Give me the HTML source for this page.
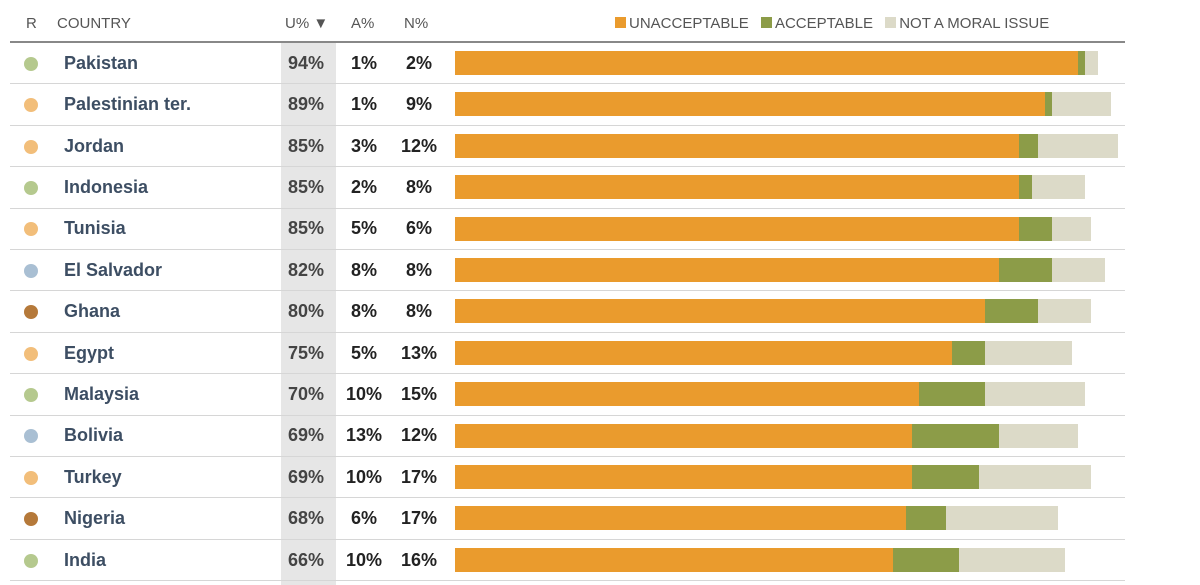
<!DOCTYPE html>
<html><head><meta charset="utf-8"><style>
body{margin:0;width:1200px;height:585px;background:#fff;font-family:"Liberation Sans",sans-serif;overflow:hidden;position:relative}
.h{position:absolute;top:15px;font-size:15px;color:#555}
.t{position:absolute;font-size:18px;font-weight:bold}
</style></head><body>
<div style="position:absolute;left:281px;top:43px;width:55px;height:542px;background:#e6e6e6"></div>
<div class="h" style="left:26px">R</div>
<div class="h" style="left:57px">COUNTRY</div>
<div class="h" style="left:285px">U% ▼</div>
<div class="h" style="left:351px">A%</div>
<div class="h" style="left:404px">N%</div>
<div style="position:absolute;left:615px;top:15px;font-size:15px;color:#555;white-space:nowrap">
<span><span style="display:inline-block;width:11px;height:11px;background:#ea9b2d;margin-right:3px"></span>UNACCEPTABLE</span>
<span style="margin-left:8px"><span style="display:inline-block;width:11px;height:11px;background:#8c9c48;margin-right:3px"></span>ACCEPTABLE</span>
<span style="margin-left:8px"><span style="display:inline-block;width:11px;height:11px;background:#dcdac8;margin-right:3px"></span>NOT A MORAL ISSUE</span>
</div>
<div style="position:absolute;left:10px;top:41px;width:1115px;height:2px;background:#888"></div>
<div id="rows"></div>
<script>
const countries=["Pakistan","Palestinian ter.","Jordan","Indonesia","Tunisia","El Salvador","Ghana","Egypt","Malaysia","Bolivia","Turkey","Nigeria","India"];
const regions=["g","o","o","g","o","b","n","o","g","b","o","n","g"];
const unacceptable=[94,89,85,85,85,82,80,75,70,69,69,68,66];
const acceptable=[1,1,3,2,5,8,8,5,10,13,10,6,10];
const notMoral=[2,9,12,8,6,8,8,13,15,12,17,17,16];
const regionColors={g:"#b5c98e",o:"#f2be7a",b:"#a9bfd3",n:"#b5793a"};
const x0=455,scale=6.63,rowTop=43,rowH=41.4;
const xs=v=>v*scale;
const root=document.getElementById('rows');
countries.forEach((c,i)=>{
  const top=rowTop+i*rowH, cy=top+rowH/2;
  const row=document.createElement('div');
  
  
  let h='';
  h+=`<div style="position:absolute;left:24px;top:${cy-7}px;width:14px;height:14px;border-radius:50%;background:${regionColors[regions[i]]}"></div>`;
  h+=`<div class="t" style="left:64px;top:${cy-11}px;color:#3d4e63">${c}</div>`;
  h+=`<div class="t" style="left:288px;top:${cy-11}px;color:#444">${unacceptable[i]}%</div>`;
  h+=`<div class="t" style="left:344px;width:40px;text-align:center;top:${cy-11}px;color:#222">${acceptable[i]}%</div>`;
  h+=`<div class="t" style="left:398px;width:42px;text-align:center;top:${cy-11}px;color:#222">${notMoral[i]}%</div>`;
  const by=top+8,bh=24;
  let x=x0;
  [[unacceptable[i],'#ea9b2d','bar-unacceptable'],[acceptable[i],'#8c9c48','bar-acceptable'],[notMoral[i],'#dcdac8','bar-not-moral']].forEach(([v,col,n])=>{
    h+=`<div style="position:absolute;left:${x}px;top:${by}px;width:${xs(v)}px;height:${bh}px;background:${col}"></div>`;
    x+=xs(v);
  });
  h+=`<div style="position:absolute;left:10px;top:${top+rowH-1}px;width:1115px;height:1px;background:#d6d6d6"></div>`;
  row.innerHTML=h;
  root.appendChild(row);
});
</script>
</body></html>
